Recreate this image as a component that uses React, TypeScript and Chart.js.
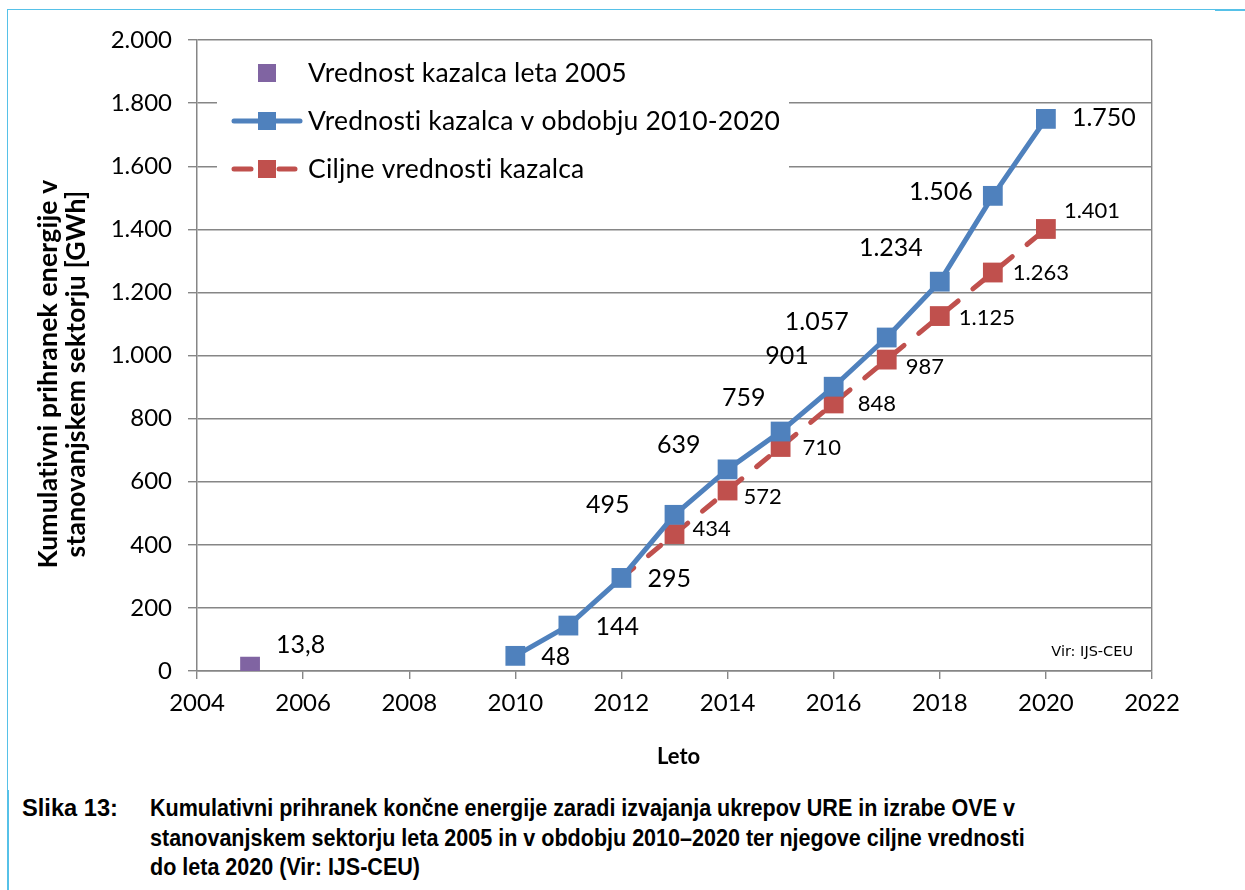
import React, { useEffect, useRef } from "react";
import { Chart, registerables } from "chart.js";

Chart.register(...registerables);

// ---------- data ----------
const baseYears = [2005];
const baseValues = [13.8];
const actualYears = [2010, 2011, 2012, 2013, 2014, 2015, 2016, 2017, 2018, 2019, 2020];
const actualValues = [48, 144, 295, 495, 639, 759, 901, 1057, 1234, 1506, 1750];
const targetYears = [2012, 2013, 2014, 2015, 2016, 2017, 2018, 2019, 2020];
const targetValues = [295, 434, 572, 710, 848, 987, 1125, 1263, 1401];

const legendLabels = [
  "Vrednost kazalca leta 2005",
  "Vrednosti kazalca v obdobju 2010-2020",
  "Ciljne vrednosti kazalca",
];
const yTitleLines = ["Kumulativni prihranek energije v", "stanovanjskem sektorju [GWh]"];
const xTitle = "Leto";
const sourceNote = "Vir: IJS-CEU";
const captionLabel = "Slika 13:";
const captionLines = [
  "Kumulativni prihranek končne energije zaradi izvajanja ukrepov URE in izrabe OVE v",
  "stanovanjskem sektorju leta 2005 in v obdobju 2010–2020 ter njegove ciljne vrednosti",
  "do leta 2020 (Vir: IJS-CEU)",
];

// ---------- styles ----------
const PURPLE = "#8064A2";
const BLUE = "#4F81BD";
const RED = "#C0504D";
const GREY = "#868686";
const CYAN = "#56C1E8";
const FONT = "Lato, 'Open Sans', sans-serif";

// label placement per point: [align, dx, dy]
type LP = [CanvasTextAlign, number, number] | null;
const baseLabelPos: LP[] = [["left", 26, -22]];
const actualLabelPos: LP[] = [
  ["left", 26, 1],
  ["left", 27, 1],
  ["left", 26, 1],
  ["right", -45, -10],
  ["right", -27, -24],
  ["right", -15, -34],
  ["right", -25, -31],
  ["right", -38, -16],
  ["right", -17, -34],
  ["right", -20, -4],
  ["left", 26, -1],
];
const targetLabelPos: LP[] = [
  null,
  ["left", 18, -5],
  ["left", 16, 6],
  ["left", 22, 1],
  ["left", 24, 0],
  ["left", 19, 7],
  ["left", 19, 2],
  ["left", 20, 0],
  ["left", 18, -18],
];
const labelConf = [
  { pos: baseLabelPos, size: 25 },
  { pos: actualLabelPos, size: 25 },
  { pos: targetLabelPos, size: 22 },
];

const fmt = (v: number) => {
  const [i, d] = String(v).split(".");
  const g = i.replace(/\B(?=(\d{3})+(?!\d))/g, ".");
  return d ? g + "," + d : g;
};

const noLig = (ctx: any) => {
  try {
    ctx.letterSpacing = "0.2px";
  } catch (e) {}
};

const decorPlugin = {
  id: "decor",
  beforeDatasetsDraw(chart: any) {
    const ctx = chart.ctx as CanvasRenderingContext2D;
    ctx.save();
    // legend box
    ctx.fillStyle = "#ffffff";
    ctx.fillRect(217, 44, 572, 140);
    const mk = 18;
    const lx = 267;
    const ys = [73, 121, 169];
    // item 1
    ctx.fillStyle = PURPLE;
    ctx.fillRect(lx - mk / 2, ys[0] - mk / 2, mk, mk);
    // item 2
    ctx.strokeStyle = BLUE;
    ctx.lineWidth = 5;
    ctx.lineCap = "round";
    ctx.beginPath();
    ctx.moveTo(234, ys[1]);
    ctx.lineTo(300, ys[1]);
    ctx.stroke();
    ctx.fillStyle = BLUE;
    ctx.fillRect(lx - mk / 2, ys[1] - mk / 2, mk, mk);
    // item 3
    ctx.strokeStyle = RED;
    ctx.beginPath();
    ctx.moveTo(234, ys[2]);
    ctx.lineTo(251, ys[2]);
    ctx.moveTo(279, ys[2]);
    ctx.lineTo(295, ys[2]);
    ctx.stroke();
    ctx.fillStyle = RED;
    ctx.fillRect(lx - mk / 2, ys[2] - mk / 2, mk, mk);
    // texts
    ctx.fillStyle = "#000";
    ctx.font = `26.5px ${FONT}`;
    noLig(ctx);
    ctx.textAlign = "left";
    ctx.textBaseline = "alphabetic";
    legendLabels.forEach((t, i) => ctx.fillText(t, 308, ys[i] + 9));
    ctx.restore();
  },
  afterDatasetsDraw(chart: any) {
    const ctx = chart.ctx as CanvasRenderingContext2D;
    ctx.save();
    ctx.fillStyle = "#000";
    ctx.textBaseline = "middle";
    chart.data.datasets.forEach((ds: any, di: number) => {
      const meta = chart.getDatasetMeta(di);
      const conf = labelConf[di];
      ctx.font = `${conf.size}px ${FONT}`;
      meta.data.forEach((el: any, i: number) => {
        const p = conf.pos[i];
        if (!p) return;
        ctx.textAlign = p[0];
        ctx.fillText(fmt(ds.data[i].y), el.x + p[1], el.y + p[2]);
      });
    });
    // source note
    const a = chart.chartArea;
    ctx.font = `14.5px 'DejaVu Sans', sans-serif`;
    ctx.textAlign = "right";
    ctx.fillText(sourceNote, a.right - 19, a.bottom - 19);
    // axis titles
    ctx.font = `bold 22px ${FONT}`;
    ctx.textAlign = "center";
    ctx.textBaseline = "middle";
    ctx.fillText(xTitle, (a.left + a.right) / 2 + 4, 757);
    ctx.save();
    ctx.font = `bold 26.5px ${FONT}`;
    noLig(ctx);
    ctx.translate(57, 374);
    ctx.rotate(-Math.PI / 2);
    ctx.textBaseline = "alphabetic";
    yTitleLines.forEach((t, i) => ctx.fillText(t, 0, i * 28));
    ctx.restore();
    ctx.restore();
  },
};

export default function App() {
  const ref = useRef<HTMLCanvasElement>(null);
  useEffect(() => {
    const tickFont = { family: FONT, size: 24 };
    const chart = new Chart(ref.current as HTMLCanvasElement, {
      type: "line",
      data: {
        datasets: [
          {
            label: legendLabels[0],
            data: baseYears.map((x, i) => ({ x, y: baseValues[i] })),
            showLine: false,
            pointStyle: "rect",
            pointRadius: 14,
            pointHoverRadius: 14,
            pointBorderWidth: 0,
            backgroundColor: PURPLE,
            borderColor: PURPLE,
            order: 3,
          },
          {
            label: legendLabels[1],
            data: actualYears.map((x, i) => ({ x, y: actualValues[i] })),
            borderColor: BLUE,
            backgroundColor: BLUE,
            borderWidth: 5,
            borderJoinStyle: "round",
            borderCapStyle: "round",
            pointStyle: "rect",
            pointRadius: 14,
            pointHoverRadius: 14,
            pointBorderWidth: 0,
            tension: 0,
            order: 1,
          },
          {
            label: legendLabels[2],
            data: targetYears.map((x, i) => ({ x, y: targetValues[i] })),
            borderColor: RED,
            backgroundColor: RED,
            borderWidth: 5,
            borderDash: [16, 19],
            borderCapStyle: "round",
            pointStyle: "rect",
            pointRadius: (c: any) => (c.dataIndex === 0 ? 0 : 14),
            pointHoverRadius: 14,
            pointBorderWidth: 0,
            tension: 0,
            order: 2,
          },
        ] as any,
      },
      options: {
        responsive: false,
        animation: false,
        devicePixelRatio: 1,
        events: [],
        layout: { padding: { left: 0, top: 40, right: 93, bottom: 0 } },
        plugins: {
          legend: { display: false },
          tooltip: { enabled: false },
          title: { display: false },
        },
        scales: {
          x: {
            type: "linear",
            min: 2004,
            max: 2022,
            afterFit: (s: any) => {
              s.height = 109;
            },
            ticks: {
              stepSize: 2,
              autoSkip: false,
              maxRotation: 0,
              padding: 10,
              color: "#000",
              font: tickFont,
              callback: (v: any) => String(v),
            },
            grid: {
              color: (c: any) => (c.tick && c.tick.value === 2022 ? GREY : "rgba(0,0,0,0)"),
              tickColor: GREY,
              tickLength: 8,
              lineWidth: 1.4,
            },
            border: { color: GREY, width: 1.5 },
          },
          y: {
            type: "linear",
            min: 0,
            max: 2000,
            afterFit: (s: any) => {
              s.width = 197;
            },
            ticks: {
              stepSize: 200,
              padding: 16,
              color: "#000",
              font: tickFont,
              callback: (v: any) => fmt(Number(v)),
            },
            grid: { color: GREY, tickColor: GREY, tickLength: 9, lineWidth: 1.4 },
            border: { color: GREY, width: 1.5 },
          },
        },
      } as any,
      plugins: [decorPlugin],
    });
    return () => chart.destroy();
  }, []);

  const capFont = "bold 24px 'Liberation Sans', Arial, sans-serif";
  return (
    <div
      style={{
        position: "absolute",
        left: 0,
        top: 0,
        width: 1245,
        height: 890,
        background: "#fff",
        overflow: "hidden",
      }}
    >
      <canvas
        ref={ref}
        width={1245}
        height={780}
        style={{ position: "absolute", left: 0, top: 0, width: 1245, height: 780 }}
      />
      <div style={{ position: "absolute", left: 7, top: 9, width: 1208, height: 1, background: CYAN }} />
      <div style={{ position: "absolute", left: 1215, top: 9, width: 30, height: 2, background: CYAN }} />
      <div style={{ position: "absolute", left: 7, top: 9, width: 1, height: 782, background: CYAN }} />
      <div style={{ position: "absolute", left: 7, top: 790, width: 2, height: 100, background: CYAN }} />
      <div
        style={{
          position: "absolute",
          left: 22,
          top: 793.4,
          font: capFont,
          lineHeight: "29.5px",
          color: "#000",
          whiteSpace: "nowrap",
          transform: "scaleX(0.985)",
          transformOrigin: "0 0",
        }}
      >
        {captionLabel}
      </div>
      <div
        style={{
          position: "absolute",
          left: 150,
          top: 793.4,
          font: capFont,
          lineHeight: "29.5px",
          color: "#000",
          whiteSpace: "nowrap",
          transform: "scaleX(0.897)",
          transformOrigin: "0 0",
        }}
      >
        {captionLines.map((l, i) => (
          <div key={i}>{l}</div>
        ))}
      </div>
    </div>
  );
}
